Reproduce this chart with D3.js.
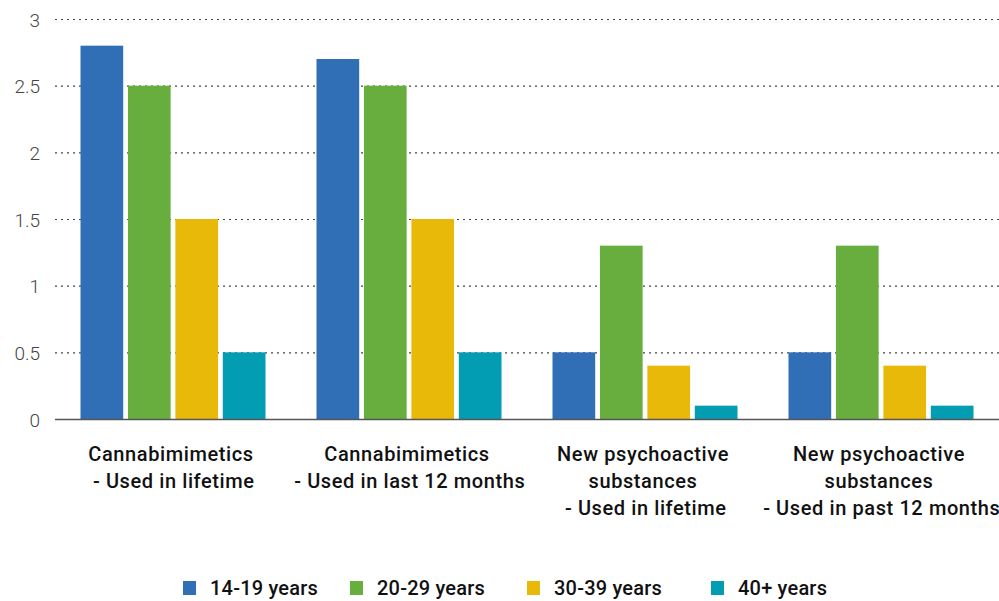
<!DOCTYPE html>
<html>
<head>
<meta charset="utf-8">
<script src="https://cdn.jsdelivr.net/npm/d3@7"></script>
<style>
  html, body { margin: 0; padding: 0; background: #fff; }
  svg { display: block; }
</style>
</head>
<body>
<svg id="chart" width="999" height="601"></svg>
<script>
// Category labels (one entry per line of the wrapped label)
const categories = [
  ["Cannabimimetics", " - Used in lifetime"],
  ["Cannabimimetics", " - Used in last 12 months"],
  ["New psychoactive", "substances", " - Used in lifetime"],
  ["New psychoactive", "substances", " - Used in past 12 months"]
];
const seriesNames = ["14-19 years", "20-29 years", "30-39 years", "40+ years"];
const seriesColors = ["#306eb6", "#68ae3e", "#e8b909", "#039db3"];
// Values per series, in category order
const s1419 = [2.8, 2.7, 0.5, 0.5];
const s2029 = [2.5, 2.5, 1.3, 1.3];
const s3039 = [1.5, 1.5, 0.4, 0.4];
const s40 = [0.5, 0.5, 0.1, 0.1];
const seriesValues = [s1419, s2029, s3039, s40];
const yTicks = [0, 0.5, 1, 1.5, 2, 2.5, 3];

const svg = d3.select("#chart");
const plotLeft = 55, plotRight = 999, plotTop = 19, plotBottom = 419;

const x0 = d3.scaleBand().domain(d3.range(categories.length)).range([plotLeft, plotRight]).padding(0);
const x1 = d3.scaleBand().domain(d3.range(seriesNames.length))
  .range([25.5, x0.bandwidth() - 25.5]).paddingInner(0.1).paddingOuter(0);
const y = d3.scaleLinear().domain([0, 3]).range([plotBottom, plotTop]);

// Grid lines
svg.append("g").selectAll("line").data(yTicks.filter(t => t > 0)).join("line")
  .attr("x1", plotLeft).attr("x2", plotRight)
  .attr("y1", d => y(d) + 0.5).attr("y2", d => y(d) + 0.5)
  .attr("stroke", "#444").attr("stroke-width", 1.2)
  .attr("stroke-dasharray", "2,4");

// Y tick labels
svg.append("g").selectAll("text").data(yTicks).join("text")
  .attr("x", 40).attr("y", d => y(d) + 1).attr("dy", "0.35em")
  .attr("text-anchor", "end")
  .attr("font-family", "Roboto, sans-serif").attr("font-size", 19).attr("font-weight", 300)
  .attr("fill", "#444")
  .text(d => d3.format("")(d));

// Bars
const groups = svg.append("g").selectAll("g").data(categories).join("g")
  .attr("transform", (d, i) => `translate(${x0(i)},0)`);
groups.selectAll("rect").data((d, i) => seriesValues.map((s, k) => ({ k, v: s[i] }))).join("rect")
  .attr("x", d => x1(d.k)).attr("width", x1.bandwidth())
  .attr("y", d => y(d.v)).attr("height", d => y(0) - y(d.v))
  .attr("fill", d => seriesColors[d.k]);

// Baseline
svg.append("line").attr("x1", plotLeft).attr("x2", plotRight)
  .attr("y1", y(0) + 0.5).attr("y2", y(0) + 0.5)
  .attr("stroke", "#555").attr("stroke-width", 1.5);

// Category labels
groups.append("text")
  .attr("text-anchor", "middle")
  .attr("font-family", "Roboto, sans-serif").attr("font-size", 20).attr("font-weight", 500)
  .attr("letter-spacing", 0.6)
  .attr("fill", "#111")
  .attr("xml:space", "preserve")
  .selectAll("tspan").data(d => d).join("tspan")
  .attr("x", x0.bandwidth() / 2 - 2)
  .attr("y", (d, j) => 461 + j * 27)
  .text(d => d);

// Legend
const legendX = [183, 350, 527, 711];
const legend = svg.append("g").selectAll("g").data(seriesNames).join("g")
  .attr("transform", (d, i) => `translate(${legendX[i]},588)`);
legend.append("rect").attr("x", 0).attr("y", -7).attr("width", 13).attr("height", 14)
  .attr("fill", (d, i) => seriesColors[i]);
legend.append("text").attr("x", 27).attr("dy", "0.35em")
  .attr("font-family", "Roboto, sans-serif").attr("font-size", 20).attr("font-weight", 500)
  .attr("letter-spacing", 0.2)
  .attr("fill", "#111").text(d => d);
</script>
</body>
</html>
